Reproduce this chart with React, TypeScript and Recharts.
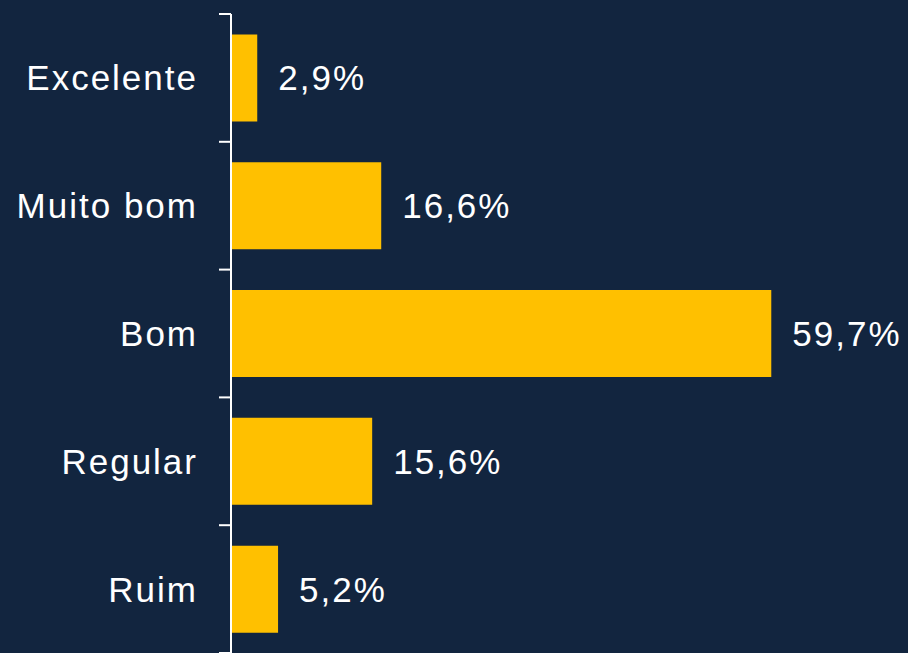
import { Bar, BarChart, LabelList, XAxis, YAxis } from 'recharts';

const categories = ['Excelente', 'Muito bom', 'Bom', 'Regular', 'Ruim'];
const shares = [2.9, 16.6, 59.7, 15.6, 5.2];

const data = categories.map((name, i) => ({ name, share: shares[i] }));

const BG = '#12253F';
const BAR = '#FFC000';
const FONT = '"Liberation Sans", Arial, sans-serif';

const fmt = (v: number) => `${v.toFixed(1).replace('.', ',')}%`;

function CategoryTick(props: any) {
  const { x, y, payload, index, visibleTicksCount } = props;
  const half = payload?.offset ?? 63.9;
  const axisX = x + 35;
  const last = index === (visibleTicksCount ?? categories.length) - 1;
  return (
    <g>
      <text
        x={x + 2}
        y={y}
        textAnchor="end"
        dominantBaseline="central"
        fill="#FFFFFF"
        fontSize={35}
        letterSpacing={2}
        fontFamily={FONT}
      >
        {payload.value}
      </text>
      <line x1={axisX - 12} x2={axisX} y1={y - half} y2={y - half} stroke="#FFFFFF" strokeWidth={2} />
      {last && (
        <line x1={axisX - 12} x2={axisX} y1={y + half} y2={y + half} stroke="#FFFFFF" strokeWidth={2} />
      )}
    </g>
  );
}

export default function App() {
  return (
    <div style={{ position: 'absolute', top: 0, left: 0, width: 908, height: 653, background: BG }}>
      <BarChart
        width={908}
        height={653}
        data={data}
        layout="vertical"
        margin={{ top: 14, right: 134, bottom: 0, left: 0 }}
        barCategoryGap="16%"
      >
        <XAxis type="number" domain={[0, 60]} hide />
        <YAxis
          type="category"
          dataKey="name"
          width={231}
          axisLine={{ stroke: '#FFFFFF', strokeWidth: 2 }}
          tickLine={false}
          tickSize={12}
          tickMargin={23}
          tick={<CategoryTick />}
          interval={0}
        />
        <Bar dataKey="share" fill={BAR} isAnimationActive={false}>
          <LabelList
            dataKey="share"
            position="right"
            offset={21}
            formatter={(v: any) => fmt(Number(v))}
            fill="#FFFFFF"
            fontSize={35}
            letterSpacing={2}
            fontFamily={FONT}
          />
        </Bar>
      </BarChart>
    </div>
  );
}
